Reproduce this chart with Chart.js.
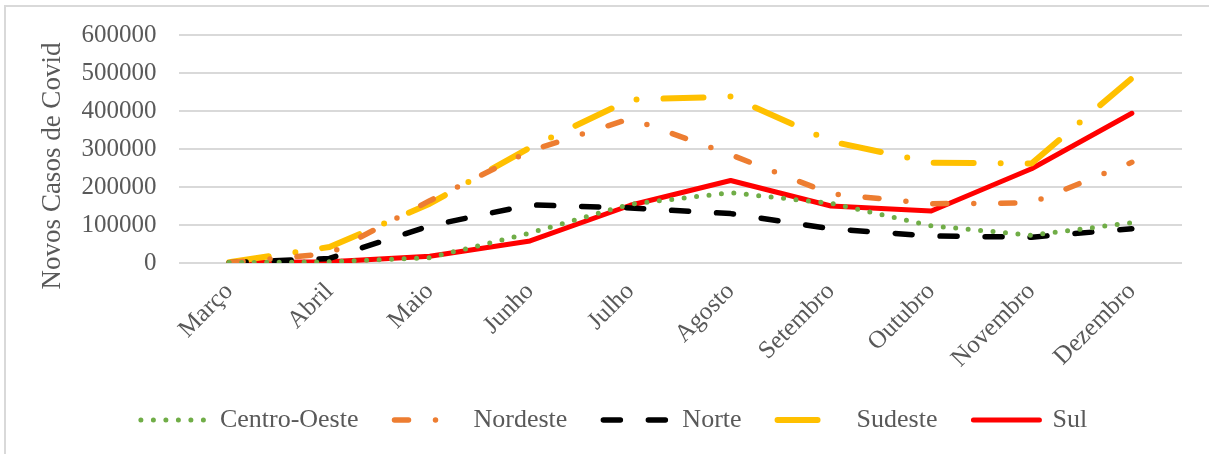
<!DOCTYPE html>
<html lang="pt">
<head>
<meta charset="utf-8">
<title>Novos Casos de Covid por Região</title>
<script src="https://cdn.jsdelivr.net/npm/chart.js@4/dist/chart.umd.min.js"></script>
<style>
  html, body { margin: 0; padding: 0; background: #ffffff; overflow: hidden; }
  #wrap { position: relative; width: 1209px; height: 454px; }
  #frame {
    position: absolute; left: 4px; top: 5px; width: 1300px; height: 500px;
    border-left: 2px solid #d9d9d9; border-top: 2px solid #d9d9d9;
    pointer-events: none;
  }
  canvas { position: absolute; left: 0; top: 0; }
</style>
</head>
<body>
<div id="wrap">
  <canvas id="chart" width="1209" height="454"></canvas>
  <div id="frame"></div>
</div>
<script>
// Meses do período
const meses = ['Março', 'Abril', 'Maio', 'Junho', 'Julho', 'Agosto', 'Setembro', 'Outubro', 'Novembro', 'Dezembro'];

// Novos casos mensais por região
const centroOeste = [1000, 3000, 14000, 79000, 155000, 185000, 157000, 98000, 73000, 106000];
const nordeste    = [1000, 25000, 164000, 295000, 380000, 285000, 182000, 156000, 158000, 265000];
const norte       = [500, 12000, 98000, 153000, 145000, 130000, 90000, 71000, 68000, 90000];
const sudeste     = [2000, 42000, 156000, 304000, 430000, 438000, 320000, 264000, 262000, 486000];
const sul         = [500, 3000, 18000, 58000, 152000, 217000, 150000, 137000, 248000, 394000];

// Rótulos do eixo vertical
const yTickLabels = ['0', '100000', '200000', '300000', '400000', '500000', '600000'];
const yTitle = 'Novos Casos de Covid';

const FONT = "'Liberation Serif', 'Times New Roman', serif";
const GREY_TEXT = '#595959';

// Título do eixo Y desenhado à esquerda da área do gráfico
const yTitlePlugin = {
  id: 'yTitle',
  afterDraw(chart) {
    const {ctx, chartArea} = chart;
    ctx.save();
    ctx.translate(53, chartArea.bottom - 97);
    ctx.rotate(-Math.PI / 2);
    ctx.font = '27px ' + FONT;
    ctx.fillStyle = GREY_TEXT;
    ctx.textAlign = 'center';
    ctx.textBaseline = 'middle';
    ctx.fillText(yTitle, 0, 0);
    ctx.restore();
  }
};

const common = { fill: false, pointRadius: 0, pointHoverRadius: 0, tension: 0, borderCapStyle: 'round', borderJoinStyle: 'round' };

new Chart(document.getElementById('chart'), {
  type: 'line',
  data: {
    labels: meses,
    datasets: [
      Object.assign({ label: 'Centro-Oeste', data: centroOeste, borderColor: '#70AD47', backgroundColor: '#70AD47', borderWidth: 5, borderDash: [0, 12.5] }, common),
      Object.assign({ label: 'Nordeste', data: nordeste, borderColor: '#ED7D31', backgroundColor: '#ED7D31', borderWidth: 5.5, borderDash: [14, 27, 0, 27] }, common),
      Object.assign({ label: 'Norte', data: norte, borderColor: '#000000', backgroundColor: '#000000', borderWidth: 5.5, borderDash: [17, 28] }, common),
      Object.assign({ label: 'Sudeste', data: sudeste, borderColor: '#FFC000', backgroundColor: '#FFC000', borderWidth: 6, borderDash: [40, 27, 0, 27] }, common),
      Object.assign({ label: 'Sul', data: sul, borderColor: '#FF0000', backgroundColor: '#FF0000', borderWidth: 5, borderDash: [] }, common)
    ]
  },
  options: {
    responsive: false,
    animation: false,
    layout: { padding: { left: 19, right: 0, top: 29, bottom: 11 } },
    scales: {
      x: {
        offset: true,
        grid: { display: false },
        border: { display: false },
        ticks: {
          color: GREY_TEXT,
          font: { family: FONT, size: 25 },
          maxRotation: 45,
          minRotation: 45,
          padding: 6,
          autoSkip: false
        },
        afterFit(s) { s.height = 108; }
      },
      y: {
        min: 0,
        max: 600000,
        grid: { color: '#d9d9d9', lineWidth: 2, drawTicks: false },
        border: { display: false },
        ticks: {
          stepSize: 100000,
          color: GREY_TEXT,
          font: { family: FONT, size: 25, lineHeight: 1 },
          padding: 22.5,
          callback: (v, i) => yTickLabels[i]
        },
        afterFit(s) { s.width = 160; }
      },
      // margem à direita da área de plotagem
      yRight: {
        position: 'right',
        min: 0,
        max: 600000,
        grid: { display: false },
        border: { display: false },
        ticks: { display: false },
        afterFit(s) { s.width = 27; }
      }
    },
    plugins: {
      legend: {
        position: 'bottom',
        labels: {
          color: GREY_TEXT,
          font: { family: FONT, size: 26 },
          usePointStyle: true,
          pointStyle: 'line',
          pointStyleWidth: 66,
          boxHeight: 26,
          padding: 36,
          generateLabels(chart) {
            const items = Chart.defaults.plugins.legend.labels.generateLabels(chart);
            items.forEach(it => {
              const ds = chart.data.datasets[it.datasetIndex];
              it.lineDash = ds.borderDash;
              it.lineCap = 'round';
              it.lineWidth = ds.borderWidth;
              it.strokeStyle = ds.borderColor;
            });
            return items;
          }
        }
      },
      tooltip: { enabled: false }
    }
  },
  plugins: [yTitlePlugin]
});
</script>
</body>
</html>
